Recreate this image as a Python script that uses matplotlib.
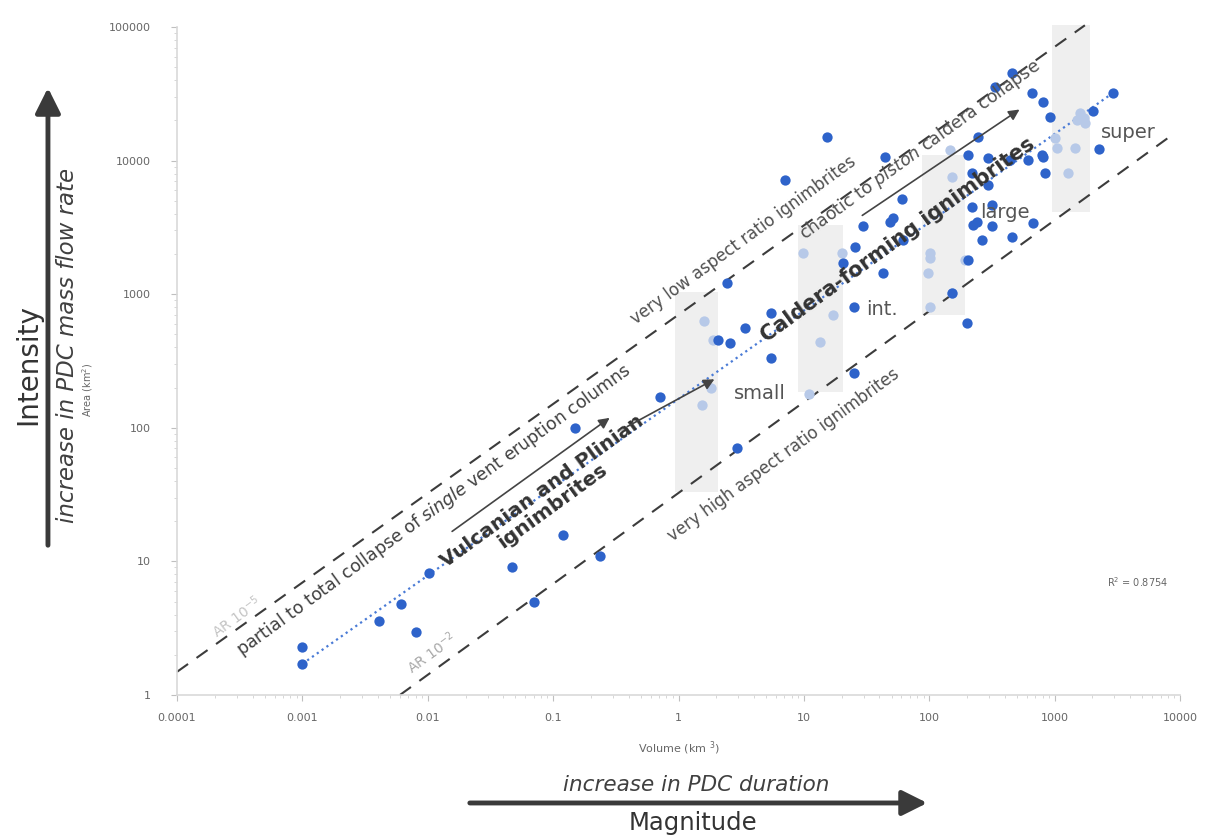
import matplotlib.pyplot as plt
import numpy as np
from matplotlib.ticker import FixedLocator, FixedFormatter, LogLocator, NullFormatter

plt.rcParams['font.family'] = ['DejaVu Sans']

# volume (km3) / area (km2) of the ignimbrites
dark_x = [0.001, 0.001, 0.0041, 0.0061, 0.0081, 0.0102, 0.047, 0.070, 0.12, 0.236,
          0.149, 0.71, 2.43, 2.06, 2.57, 3.39, 5.46, 5.46, 2.92, 15.2,
          7.06, 44.3, 60.4, 29.5, 51.3, 48.5, 25.5, 42.7, 25.1, 25.1,
          199.5, 151, 203, 244, 456, 333, 658, 805, 916, 203,
          293, 439, 611, 791, 836, 219, 293, 219, 315, 223,
          240, 315, 262, 456, 670, 2910, 2018, 2254, 805, 20.5, 61.7]
dark_y = [2.29, 1.71, 3.58, 4.8, 2.96, 8.2, 9.1, 4.97, 15.8, 11,
          100, 170, 1213, 454, 431, 558, 723, 333, 70.6, 15000,
          7160, 10640, 5160, 3240, 3720, 3470, 2255, 1442, 802, 257,
          609, 1021, 1803, 15000, 45250, 35550, 32060, 27480, 21190, 11010,
          10450, 10090, 10090, 11010, 8075, 8075, 6560, 4500, 4650, 3300,
          3470, 3240, 2545, 2680, 3410, 32060, 23500, 12220, 10640, 1713, 2545]

light_x = [1.6, 1.88, 1.81, 1.54, 11, 13.4, 17, 9.8, 20.1, 101,
           101, 97.5, 101, 151, 192, 146, 151, 1589, 1742, 1005,
           1042, 1450, 1274, 1700, 1520]
light_y = [630, 454, 199, 148, 179, 439, 699, 2035, 2035, 2035,
           1866, 1442, 802, 1021, 1803, 12000, 7540, 22700, 19100, 14760,
           12420, 12420, 8075, 21000, 20000]

# power-law trendline end points
trend_x = [0.001, 2910]
trend_y = [1.71, 32060]

# aspect ratio lines
ar5_x = [0.0001, 1742]
ar5_y = [1.49, 103000]
ar2_x = [0.006, 8000]
ar2_y = [1.0, 14760]

# size classes (grey bands)
band_names = ['small', 'int.', 'large', 'super']
band_x0 = [0.94, 8.95, 87, 950]
band_x1 = [2.06, 20.4, 192, 1910]
band_y0 = [33, 185, 699, 4120]
band_y1 = [1040, 3300, 11000, 103000]
band_lab_x = [4.46, 41.9, 401, 3837]
band_lab_y = [182, 762, 4120, 16100]

xticks = [1e-4, 1e-3, 1e-2, 1e-1, 1, 10, 100, 1000, 10000]
xticklabels = ['0.0001', '0.001', '0.01', '0.1', '1', '10', '100', '1000', '10000']
yticks = [1, 10, 100, 1000, 10000, 100000]
yticklabels = ['1', '10', '100', '1000', '10000', '100000']

fig = plt.figure(figsize=(12.05, 8.36), dpi=100)
ax = fig.add_axes([0.1469, 0.1687, 0.8324, 0.799])
ax.set_xscale('log')
ax.set_yscale('log')
ax.set_xlim(1e-4, 1e4)
ax.set_ylim(1, 1e5)

for x0, x1, y0, y1 in zip(band_x0, band_x1, band_y0, band_y1):
    ax.fill_between([x0, x1], [y0, y0], [y1, y1], color='#efefef', lw=0, zorder=0, clip_on=False)
for name, lx, ly in zip(band_names, band_lab_x, band_lab_y):
    ax.text(lx, ly, name, fontsize=14, color='#555555', ha='center', va='center', zorder=4)

ax.plot(ar5_x, ar5_y, ls=(0, (6.5, 5)), color='#3c3c3c', lw=1.5, clip_on=False, zorder=1)
ax.plot(ar2_x, ar2_y, ls=(0, (6.5, 5)), color='#3c3c3c', lw=1.5, clip_on=False, zorder=1)
ax.plot(trend_x, trend_y, ls=':', color='#4a7bd6', lw=1.6, zorder=2)

ax.scatter(light_x, light_y, s=55, color='#b7c9e8', lw=0, zorder=3)
ax.scatter(dark_x, dark_y, s=55, color='#2e63ca', lw=0, zorder=3)

ang = 36
ax.text(0.0003, 3.84, 'AR 10$^{-5}$', rotation=ang, rotation_mode='anchor', ha='center', va='center',
        fontsize=10, color='#c4c4c4')
ax.text(0.0108, 2.06, 'AR 10$^{-2}$', rotation=ang, rotation_mode='anchor', ha='center', va='center',
        fontsize=10, color='#a8a8a8')
ax.text(0.0112, 24.3, 'partial to total collapse of $\\it{single}$ vent eruption columns', rotation=ang,
        rotation_mode='anchor', ha='center', va='center', fontsize=12.5, color='#404040')
ax.text(3.27, 2545, 'very low aspect ratio ignimbrites', rotation=ang, rotation_mode='anchor',
        ha='center', va='center', fontsize=12, color='#505050')
ax.text(84, 12000, 'chaotic to $\\it{piston}$ caldera collapse', rotation=ang, rotation_mode='anchor',
        ha='center', va='center', fontsize=12.5, color='#505050')
ax.text(6.93, 62.6, 'very high aspect ratio ignimbrites', rotation=ang, rotation_mode='anchor',
        ha='center', va='center', fontsize=12, color='#505050')
ax.text(0.09, 29.5, 'Vulcanian and Plinian\nignimbrites', rotation=ang, rotation_mode='anchor',
        ha='center', va='center', fontsize=14.5, fontweight='bold', color='#333333', linespacing=1.0)
ax.text(56.2, 2545, 'Caldera-forming ignimbrites', rotation=ang, rotation_mode='anchor',
        ha='center', va='center', fontsize=15, fontweight='bold', color='#333333')

arrow_kw = dict(arrowstyle='-|>', color='#444444', lw=1.2, mutation_scale=16)
ax.annotate('', xy=(0.294, 122), xytext=(0.015, 16.3), arrowprops=arrow_kw)
ax.annotate('', xy=(2.02, 236), xytext=(0.374, 100), arrowprops=arrow_kw)
ax.annotate('', xy=(547, 24770), xytext=(28, 3785), arrowprops=arrow_kw)

ax.text(4613, 7.0, 'R$^2$ = 0.8754', fontsize=7, color='#666666', ha='center', va='center')

for s in ['top', 'right']:
    ax.spines[s].set_visible(False)
for s in ['left', 'bottom']:
    ax.spines[s].set_color('#d9d9d9')
    ax.spines[s].set_linewidth(1.2)
ax.xaxis.set_major_locator(FixedLocator(xticks))
ax.xaxis.set_major_formatter(FixedFormatter(xticklabels))
ax.yaxis.set_major_locator(FixedLocator(yticks))
ax.yaxis.set_major_formatter(FixedFormatter(yticklabels))
ax.xaxis.set_minor_locator(LogLocator(base=10, subs=np.arange(2, 10), numticks=20))
ax.yaxis.set_minor_locator(LogLocator(base=10, subs=np.arange(2, 10), numticks=20))
ax.xaxis.set_minor_formatter(NullFormatter())
ax.yaxis.set_minor_formatter(NullFormatter())
ax.tick_params(which='major', length=4, color='#bfbfbf', labelsize=8, labelcolor='#666666')
ax.tick_params(axis='x', which='major', pad=9)
ax.tick_params(axis='y', which='major', pad=15)
ax.tick_params(which='minor', length=2.5, color='#d0d0d0')

ax.set_xlabel('Volume (km $^{3}$)', fontsize=8, color='#666666', labelpad=12)

# outer annotations
fig.text(0.073, 0.5335, 'Area (km$^{2}$)', rotation=90, fontsize=7, color='#666666', ha='center', va='center')
fig.text(0.0564, 0.5873, 'increase in PDC mass flow rate', rotation=90, fontsize=16.5, style='italic',
         color='#404040', ha='center', va='center')
fig.text(0.0232, 0.5634, 'Intensity', rotation=90, fontsize=20, color='#333333', ha='center', va='center')
ax.annotate('', xy=(0.0398, 0.8983), xytext=(0.0398, 0.3445), xycoords='figure fraction',
            arrowprops=dict(arrowstyle='-|>', color='#3a3a3a', lw=3.5, mutation_scale=38),
            annotation_clip=False)

fig.text(0.578, 0.061, 'increase in PDC duration', fontsize=15.5, style='italic', color='#404040',
         ha='center', va='center')
ax.annotate('', xy=(0.7718, 0.0395), xytext=(0.3876, 0.0395), xycoords='figure fraction',
            arrowprops=dict(arrowstyle='-|>', color='#3a3a3a', lw=3.5, mutation_scale=38),
            annotation_clip=False)
fig.text(0.575, 0.0155, 'Magnitude', fontsize=17.5, color='#333333', ha='center', va='center')

fig.savefig('out.png', dpi=100, facecolor='white')
